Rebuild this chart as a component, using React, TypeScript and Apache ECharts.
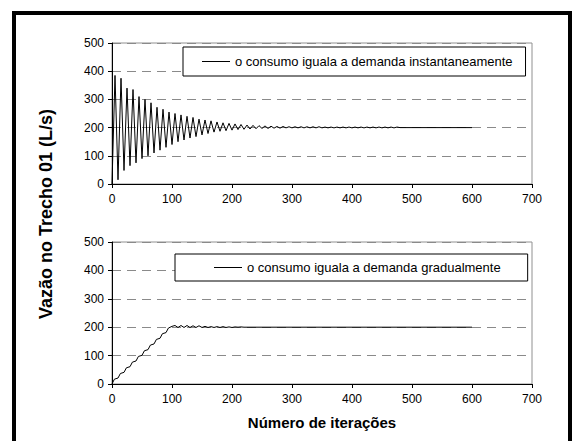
import { useEffect, useRef } from "react";
import * as echarts from "echarts";

const topName = "o consumo iguala a demanda instantaneamente";
const bottomName = "o consumo iguala a demanda gradualmente";
const yTitle = "Vazão no Trecho 01 (L/s)";
const xTitle = "Número de iterações";

const topIter = [
  0, 5, 10, 15, 20, 25, 30, 35, 40, 45, 50, 55, 60, 65, 70, 75, 80, 85, 90, 95,
  100, 105, 110, 115, 120, 125, 130, 135, 140, 145, 150, 155, 160, 165, 170, 175, 180, 185, 190, 195,
  200, 205, 210, 215, 220, 225, 230, 235, 240, 245, 250, 255, 260, 265, 270, 275, 280, 285, 290, 295,
  300, 305, 310, 315, 320, 325, 330, 335, 340, 345, 350, 355, 360, 365, 370, 375, 380, 385, 390, 395,
  400, 405, 410, 415, 420, 425, 430, 435, 440, 445, 450, 455, 460, 465, 470, 475, 480, 600,
];
const topFlow = [
  0, 385, 15, 375, 48, 340, 65, 335, 75, 310, 90, 300, 100, 288, 110, 272, 120, 265, 130, 255,
  140, 250, 150, 245, 156, 240, 163, 236, 168, 230, 174, 227, 179, 224, 184, 220, 187, 217, 189, 215,
  191, 213, 193, 211, 194, 209, 195, 208, 196, 207, 197, 206, 197, 205, 198, 204, 198, 204, 199, 203,
  199, 203, 199, 203, 199, 203, 199, 203, 199, 203, 199, 202, 199, 202, 199, 202, 199, 202, 199, 202,
  199, 202, 199, 202, 199, 202, 199, 202, 199, 202, 199, 202, 199, 202, 199, 202, 200, 200,
];

const bottomIter = [
  0, 4, 10, 14, 20, 24, 30, 34, 40, 44, 50, 54, 60, 64, 70, 74, 80, 84, 90, 94,
  100, 105, 110, 115, 120, 125, 130, 135, 140, 145, 150, 155, 160, 165, 170, 175, 180, 185, 190, 195,
  200, 205, 210, 215, 220, 600,
];
const bottomFlow = [
  0, 17, 21, 37, 41, 57, 61, 77, 81, 97, 101, 117, 121, 137, 141, 157, 161, 177, 181, 197,
  203, 206, 199, 206, 199, 206, 199, 205, 199, 205, 199, 203, 199, 202, 199, 202, 199, 202, 199, 201,
  199, 201, 200, 201, 200, 200,
];

const FONT = 'Arial, "Liberation Sans", sans-serif';

function xAxisFor(gridIndex: number, extra: any = {}) {
  return {
    gridIndex,
    type: "value",
    min: 0,
    max: 700,
    interval: 100,
    axisLine: { show: true, onZero: false, lineStyle: { color: "#000", width: 1 } },
    axisTick: { show: true, length: 4, lineStyle: { color: "#000", width: 1 } },
    axisLabel: { color: "#000", fontSize: 12, margin: 9, fontFamily: FONT },
    splitLine: { show: false },
    ...extra,
  };
}

function yAxisFor(gridIndex: number) {
  return {
    gridIndex,
    type: "value",
    min: 0,
    max: 500,
    interval: 100,
    axisLine: { show: true, onZero: false, lineStyle: { color: "#000", width: 1 } },
    axisTick: { show: true, length: 4, lineStyle: { color: "#000", width: 1 } },
    axisLabel: { color: "#000", fontSize: 12, margin: 8, fontFamily: FONT },
    splitLine: { show: true, lineStyle: { color: "#8a8a8a", width: 1, type: [9, 6] } },
  };
}

function legendFor(name: string, left: number, top: number, padding: number[]) {
  return {
    data: [name],
    left,
    top,
    orient: "horizontal",
    borderColor: "#000",
    borderWidth: 1,
    backgroundColor: "#fff",
    padding,
    icon: "rect",
    itemWidth: 28,
    itemHeight: 1,
    itemGap: 0,
    selectedMode: false,
    textStyle: { fontSize: 13, color: "#000", fontFamily: FONT },
  };
}

export default function App() {
  const ref = useRef<HTMLDivElement>(null);
  useEffect(() => {
    if (!ref.current) return;
    const chart = echarts.init(ref.current, undefined, { renderer: "svg" });
    chart.setOption({
      animation: false,
      backgroundColor: "#fff",
      grid: [
        { left: 112, top: 43, width: 420, height: 141, show: true, borderColor: "#909090", borderWidth: 1 },
        { left: 112, top: 242, width: 420, height: 142, show: true, borderColor: "#909090", borderWidth: 1 },
      ],
      xAxis: [
        xAxisFor(0),
        xAxisFor(1, {
          name: xTitle,
          nameLocation: "middle",
          nameGap: 31,
          nameTextStyle: { fontWeight: "bold", fontSize: 15, color: "#000", fontFamily: FONT },
        }),
      ],
      yAxis: [yAxisFor(0), yAxisFor(1)],
      legend: [
        legendFor(topName, 183, 47, [8, 13, 8, 19]),
        legendFor(bottomName, 175, 254, [7, 27, 7, 39]),
      ],
      series: [
        {
          name: topName,
          type: "line",
          xAxisIndex: 0,
          yAxisIndex: 0,
          data: topIter.map((x, i) => [x, topFlow[i]]),
          symbol: "none",
          color: "#000",
          lineStyle: { color: "#000", width: 1 },
        },
        {
          name: bottomName,
          type: "line",
          xAxisIndex: 1,
          yAxisIndex: 1,
          data: bottomIter.map((x, i) => [x, bottomFlow[i]]),
          symbol: "none",
          color: "#000",
          lineStyle: { color: "#000", width: 1 },
        },
      ],
      graphic: [
        {
          type: "rect",
          silent: true,
          shape: { x: 14, y: 13, width: 556, height: 500 },
          style: { fill: "none", stroke: "#000", lineWidth: 4 },
        },
        {
          type: "text",
          x: 46,
          y: 214,
          rotation: Math.PI / 2,
          style: {
            text: yTitle,
            font: "bold 18px " + FONT,
            fill: "#000",
            align: "center",
            verticalAlign: "middle",
            textAlign: "center",
            textVerticalAlign: "middle",
          },
        },
      ],
    });
    return () => chart.dispose();
  }, []);
  return (
    <div
      ref={ref}
      style={{ position: "fixed", left: 0, top: 0, width: 573, height: 441 }}
    />
  );
}
